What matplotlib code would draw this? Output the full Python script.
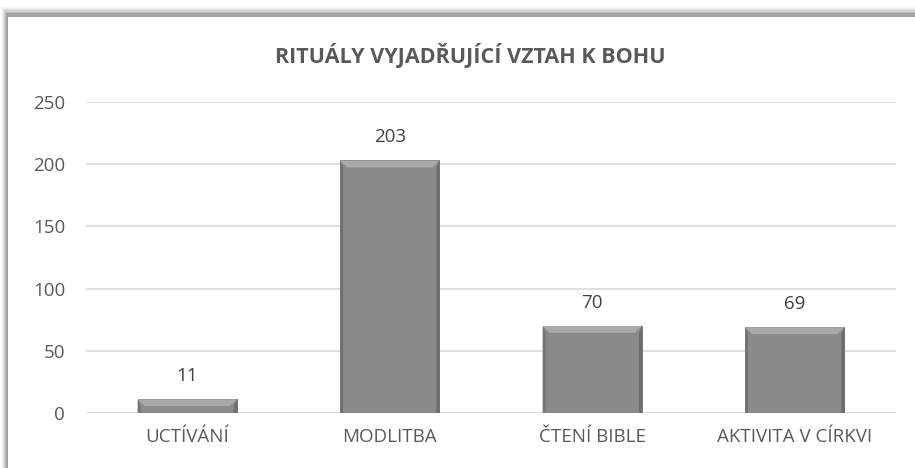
import matplotlib.pyplot as plt
from matplotlib.patches import Rectangle, Polygon

plt.rcParams['font.family'] = ['Open Sans', 'DejaVu Sans']

categories = ['UCTÍVÁNÍ', 'MODLITBA', 'ČTENÍ BIBLE', 'AKTIVITA V CÍRKVI']
values = [11, 203, 70, 69]
yticks = [0, 50, 100, 150, 200, 250]
title = 'RITUÁLY VYJADŘUJÍCÍ VZTAH K BOHU'

W, H = 915, 468
fig = plt.figure(figsize=(W / 100, H / 100), dpi=100)
fig.patch.set_facecolor('white')

# frame with soft shadow on left/top
for i, a in enumerate([0.04, 0.06, 0.09, 0.13, 0.18, 0.28]):
    off = 7 - i
    fig.patches.append(Rectangle(((8 - off) / W, -0.1), 1.2, (H - 16 + off * 1.4) / H + 0.1,
                                 transform=fig.transFigure, facecolor='#606060',
                                 alpha=a, edgecolor='none', zorder=0))
fig.patches.append(Rectangle((8 / W, -0.1), 1.2, (H - 17) / H + 0.1,
                             transform=fig.transFigure, facecolor='white',
                             edgecolor='none', zorder=1))

ax = fig.add_axes([86 / W, 55 / H, 810 / W, 311 / H])
ax.set_zorder(2)
ax.patch.set_alpha(0)

x = list(range(len(categories)))
bars = ax.bar(x, values, width=0.49, color='#8a8a8a', edgecolor='#6a6a6a',
              linewidth=0.6, zorder=3)

ax.set_xlim(-0.5, len(categories) - 0.5)
ax.set_ylim(0, 250)

# bevel decoration derived from each bar
px_x = (len(categories)) / 810.0
px_y = 250 / 311.0
for b in bars:
    x0, w, h = b.get_x(), b.get_width(), b.get_height()
    dx, dy = 7 * px_x, min(7 * px_y, h / 2)
    sx = 3 * px_x
    top = Polygon([(x0, h), (x0 + w, h), (x0 + w - dx, h - dy), (x0 + dx, h - dy)],
                  closed=True, facecolor='#a9a9a9', edgecolor='none', zorder=4)
    left = Polygon([(x0, 0), (x0, h), (x0 + sx, h - dy), (x0 + sx, 0)],
                   closed=True, facecolor='#737373', edgecolor='none', zorder=4)
    right = Polygon([(x0 + w, 0), (x0 + w, h), (x0 + w - sx, h - dy), (x0 + w - sx, 0)],
                    closed=True, facecolor='#6c6c6c', edgecolor='none', zorder=4)
    for p in (top, left, right):
        ax.add_patch(p)
    ax.annotate(f'{int(h)}', (x0 + w / 2, h), xytext=(0, 13), textcoords='offset points',
                ha='center', va='baseline', fontsize=13.5, color='#404040')

ax.set_yticks(yticks)
ax.set_xticks(x)
ax.set_xticklabels(categories)
ax.tick_params(axis='both', length=0, labelsize=13.5, colors='#595959')
ax.tick_params(axis='x', pad=11)
ax.tick_params(axis='y', pad=15)
ax.yaxis.grid(True, color='#d9d9d9', linewidth=1.2, zorder=0)
for s in ax.spines.values():
    s.set_visible(False)

fig.text(470 / W, 1 - 63 / H, title, ha='center', va='baseline', fontsize=15.5,
         fontweight='bold', color='#595959', zorder=3)

fig.savefig('out.png', dpi=100)
